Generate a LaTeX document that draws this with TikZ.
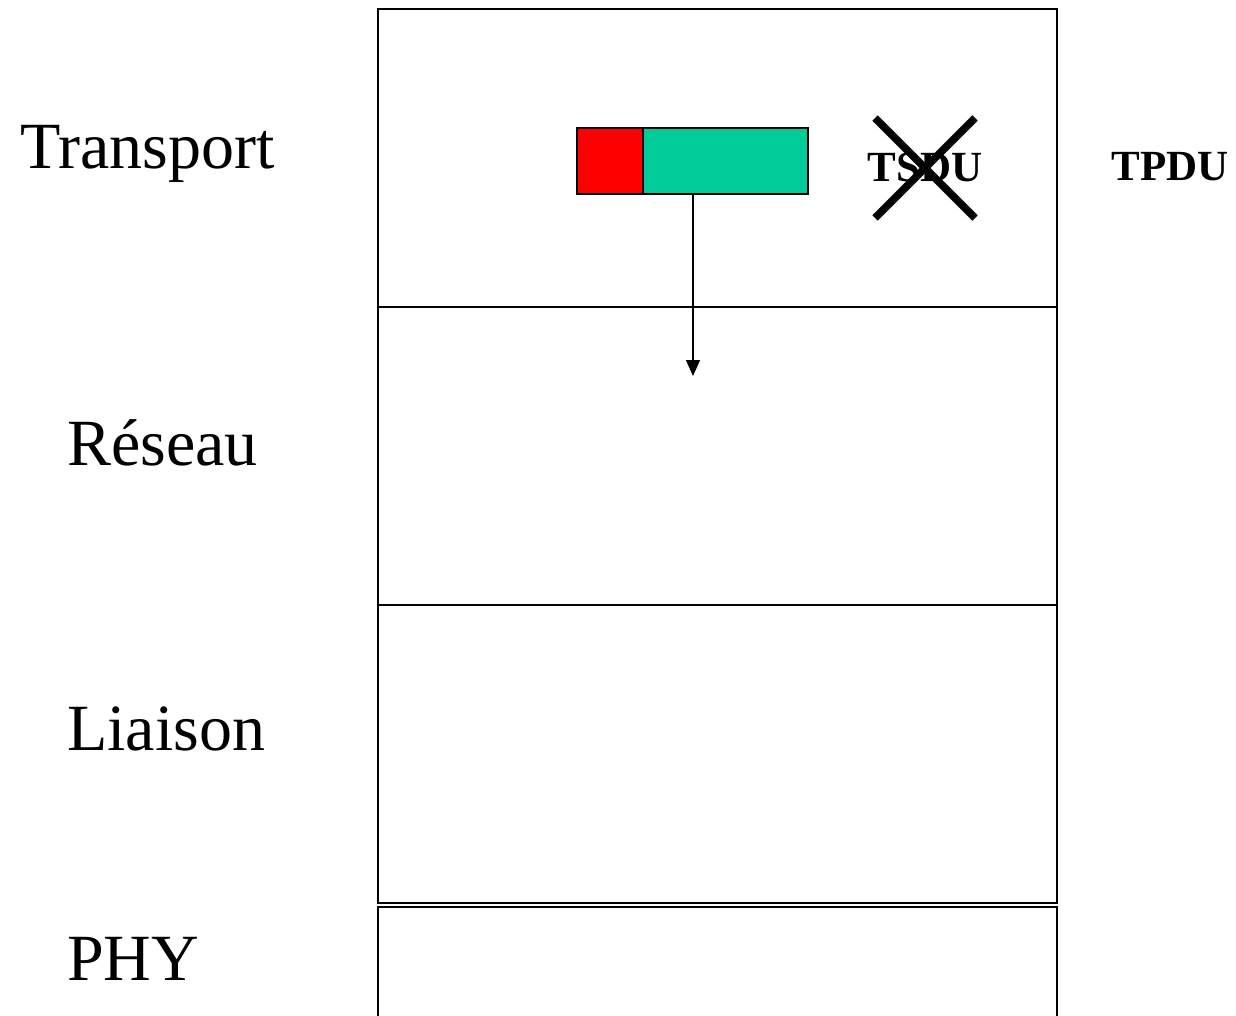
\documentclass[tikz,border=0pt]{standalone}
\usepackage{fontspec}
\setmainfont{Liberation Serif}
\usetikzlibrary{arrows.meta, positioning}

\begin{document}
\begin{tikzpicture}[
    x=1pt, y=-1pt,
    layer/.style={rectangle, draw=black, line width=1.5pt, minimum width=679pt, minimum height=298pt, anchor=north west, inner sep=0pt, outer sep=0pt},
    layername/.style={anchor=base west, inner sep=0pt, font=\fontsize{66}{78}\selectfont},
    pdu/.style={inner sep=0pt, font=\fontsize{43}{52}\selectfont\bfseries},
    field/.style={rectangle, draw=black, line width=1.2pt, minimum height=66pt, inner sep=0pt, outer sep=0pt},
    arrow/.style={-{Triangle[length=16pt, width=14pt]}, line width=1.2pt}
]
\useasboundingbox (0,0) rectangle (1236,1015);
\clip (0,0) rectangle (1236,1015);

% the stack of layers
\node[layer] (transport) at (378,9) {};
\node[layer] (reseau) at (378,307) {};
\node[layer] (liaison) at (378,605) {};
\node[layer, minimum height=200pt] (phy) at (378,907) {};

% layer names
\node[layername] (ltransport) at (20,168) {Transport};
\node[layername] (lreseau) at (67,465) {Réseau};
\node[layername] (lliaison) at (67,750) {Liaison};
\node[layername] (lphy) at (67,980) {PHY};

% header + data of the unit
\node[field, fill=red, minimum width=66pt, anchor=north west] (hdr) at (577,128) {};
\node[field, fill={rgb,255:red,0;green,204;blue,153}, minimum width=165pt, right=0pt of hdr] (payload) {};

\node[pdu] (tsdu) at (925,167) {TSDU};
\node[pdu] (tpdu) at (1170,167) {TPDU};

% TSDU crossed out
\draw[line width=7.5pt] (tsdu.center) +(-50,-49) -- +(50,51);
\draw[line width=7.5pt] (tsdu.center) +(50,-49) -- +(-50,51);

\coordinate (drop) at (693,376);
\draw[arrow] (drop |- payload.south) -- (drop);

\end{tikzpicture}
\end{document}
